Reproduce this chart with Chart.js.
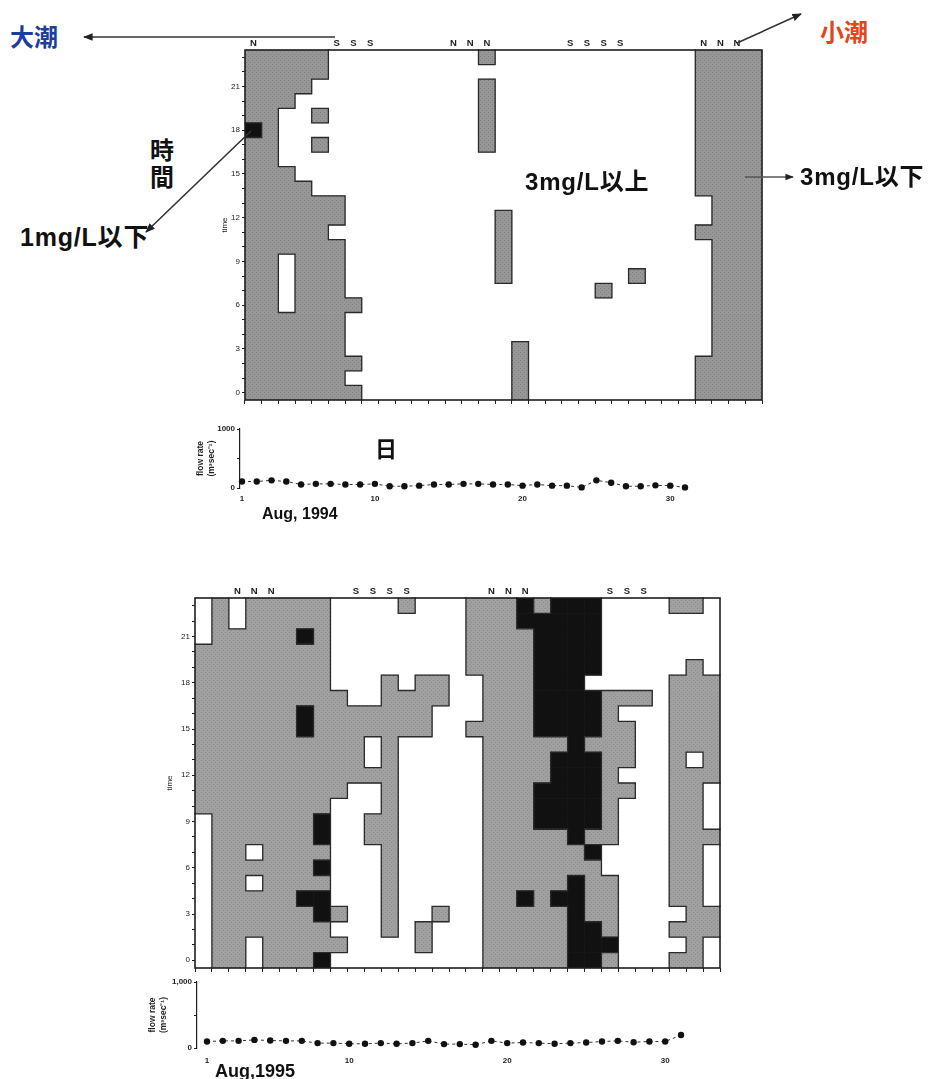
<!DOCTYPE html>
<html lang="ja">
<head>
<meta charset="utf-8">
<title>溶存酸素の日変化 1994・1995年8月</title>
<script src="https://cdn.jsdelivr.net/npm/chart.js@4.4.1/dist/chart.umd.min.js"></script>
<style>
  html, body { margin: 0; padding: 0; background: #fff; }
  body { width: 930px; height: 1079px; position: relative; overflow: hidden;
         font-family: "Liberation Sans", "Noto Sans CJK JP", sans-serif; }
  canvas { position: absolute; }
  .note { position: absolute; font-weight: bold; line-height: 1; white-space: nowrap; color: #111;
          font-family: "Liberation Sans", "Noto Sans CJK JP", sans-serif; }
  .mg { font-size: 24px; letter-spacing: 0.8px; }
  .jp { font-family: "Noto Sans CJK JP", sans-serif; }
  svg { position: absolute; left: 0; top: 0; pointer-events: none; }
</style>
</head>
<body>

<canvas id="do94" width="560" height="392" style="left:220px;top:28px"></canvas>
<canvas id="flow94" width="504" height="95" style="left:196px;top:415px"></canvas>
<canvas id="do95" width="577" height="412" style="left:165px;top:576px"></canvas>
<canvas id="flow95" width="552" height="104" style="left:148px;top:968px"></canvas>

<div class="note jp" style="left:10px;top:24px;font-size:24px;color:#1d3f9c">大潮</div>
<div class="note jp" style="left:820px;top:19px;font-size:24px;color:#e2461c">小潮</div>
<div class="note jp" style="left:150px;top:137px;font-size:24px">時</div>
<div class="note jp" style="left:150px;top:164px;font-size:24px">間</div>
<div class="note mg" style="left:20px;top:225px;font-size:25px">1mg/L以下</div>
<div class="note mg" style="left:525px;top:170px">3mg/L以上</div>
<div class="note mg" style="left:800px;top:165px">3mg/L以下</div>
<div class="note jp" style="left:375px;top:436px;font-size:22px">日</div>
<div class="note" style="left:262px;top:506px;font-size:16px">Aug, 1994</div>
<div class="note" style="left:215px;top:1062px;font-size:18px">Aug,1995</div>

<svg width="930" height="1079">
  <defs>
    <marker id="ah" viewBox="0 0 10 10" refX="9" refY="5" markerWidth="6" markerHeight="6" orient="auto">
      <path d="M0,1 L10,5 L0,9 z" fill="#222"/>
    </marker>
  </defs>
  <line x1="335" y1="37" x2="84" y2="37" stroke="#333" stroke-width="1.6" marker-end="url(#ah)"/>
  <line x1="737" y1="43" x2="801" y2="14" stroke="#333" stroke-width="1.6" marker-end="url(#ah)"/>
  <line x1="251" y1="131" x2="146" y2="232" stroke="#333" stroke-width="1.6" marker-end="url(#ah)"/>
  <line x1="745" y1="177" x2="793" y2="177" stroke="#555" stroke-width="1.4" marker-end="url(#ah)"/>
</svg>

<script>
/* 溶存酸素の時間×日ダイアグラム（1994年・1995年8月）と流量
 * セル記号: '.' = 3mg/L以上(白), 'G' = 3mg/L以下(灰), 'B' = 1mg/L以下(黒)
 * 行は 23時 → 0時 の順、5日ごとに空白で区切る
 */

var dayLabels = ['1', '2', '3', '4', '5', '6', '7', '8', '9', '10', '11', '12', '13', '14', '15', '16',
  '17', '18', '19', '20', '21', '22', '23', '24', '25', '26', '27', '28', '29', '30', '31'];
var dayNums = [1, 2, 3, 4, 5, 6, 7, 8, 9, 10, 11, 12, 13, 14, 15, 16,
  17, 18, 19, 20, 21, 22, 23, 24, 25, 26, 27, 28, 29, 30, 31];
var hours = [0, 1, 2, 3, 4, 5, 6, 7, 8, 9, 10, 11, 12, 13, 14, 15, 16, 17, 18, 19, 20, 21, 22, 23];

// 大潮(S)・小潮(N) の上辺ラベル
var tide1994 = ['N', '', '', '', '', 'S', 'S', 'S', '', '', '', '', 'N', 'N', 'N', '',
  '', '', '', 'S', 'S', 'S', 'S', '', '', '', '', 'N', 'N', 'N', ''];
var tide1995 = ['', '', 'N', 'N', 'N', '', '', '', '', 'S', 'S', 'S', 'S', '', '', '',
  '', 'N', 'N', 'N', '', '', '', '', 'S', 'S', 'S', '', '', '', ''];

var do1994 = [
  'GGGGG ..... ....G ..... ..... ..GGG G', // 23
  'GGGGG ..... ..... ..... ..... ..GGG G', // 22
  'GGGG. ..... ....G ..... ..... ..GGG G', // 21
  'GGG.. ..... ....G ..... ..... ..GGG G', // 20
  'GG..G ..... ....G ..... ..... ..GGG G', // 19
  'BG... ..... ....G ..... ..... ..GGG G', // 18
  'GG..G ..... ....G ..... ..... ..GGG G', // 17
  'GG... ..... ..... ..... ..... ..GGG G', // 16
  'GGG.. ..... ..... ..... ..... ..GGG G', // 15
  'GGGG. ..... ..... ..... ..... ..GGG G', // 14
  'GGGGG G.... ..... ..... ..... ...GG G', // 13
  'GGGGG G.... ..... G.... ..... ...GG G', // 12
  'GGGGG ..... ..... G.... ..... ..GGG G', // 11
  'GGGGG G.... ..... G.... ..... ...GG G', // 10
  'GG.GG G.... ..... G.... ..... ...GG G', // 9
  'GG.GG G.... ..... G.... ...G. ...GG G', // 8
  'GG.GG G.... ..... ..... .G... ...GG G', // 7
  'GG.GG GG... ..... ..... ..... ...GG G', // 6
  'GGGGG G.... ..... ..... ..... ...GG G', // 5
  'GGGGG G.... ..... ..... ..... ...GG G', // 4
  'GGGGG G.... ..... .G... ..... ...GG G', // 3
  'GGGGG GG... ..... .G... ..... ..GGG G', // 2
  'GGGGG G.... ..... .G... ..... ..GGG G', // 1
  'GGGGG GG... ..... .G... ..... ..GGG G'  // 0
];

var do1995 = [
  '.G.GG GGG.. ..G.. .GGGB GBBB. ...GG .', // 23
  '.G.GG GGG.. ..... .GGGB BBBB. ..... .', // 22
  '.GGGG GBG.. ..... .GGGG BBBB. ..... .', // 21
  'GGGGG GGG.. ..... .GGGG BBBB. ..... .', // 20
  'GGGGG GGG.. ..... .GGGG BBBB. ....G .', // 19
  'GGGGG GGG.. .G.GG ..GGG BBB.. ...GG G', // 18
  'GGGGG GGGG. .GGGG ..GGG BBBBG GG.GG G', // 17
  'GGGGG GBGGG GGGG. ..GGG BBBBG ...GG G', // 16
  'GGGGG GBGGG GGGG. .GGGG BBBBG G..GG G', // 15
  'GGGGG GGGGG .G... ..GGG GGBGG G..GG G', // 14
  'GGGGG GGGGG .G... ..GGG GBBBG G..G. G', // 13
  'GGGGG GGGGG GG... ..GGG GBBBG ...GG G', // 12
  'GGGGG GGGG. .G... ..GGG BBBBG G..GG .', // 11
  'GGGGG GGG.. .G... ..GGG BBBBG ...GG .', // 10
  '.GGGG GGB.. GG... ..GGG BBBBG ...GG .', // 9
  '.GGGG GGB.. GG... ..GGG GGBGG ...GG G', // 8
  '.GG.G GGG.. .G... ..GGG GGGB. ...GG .', // 7
  '.GGGG GGB.. .G... ..GGG GGGG. ...GG .', // 6
  '.GG.G GGG.. .G... ..GGG GGBGG ...GG .', // 5
  '.GGGG GBB.. .G... ..GGB GBBGG ...GG .', // 4
  '.GGGG GGBG. .G..G ..GGG GGBGG ....G G', // 3
  '.GGGG GGG.. .G.G. ..GGG GGBBG ...GG G', // 2
  '.GG.G GGGG. ...G. ..GGG GGBBB ....G .', // 1
  '.GG.G GGB.. ..... ..GGG GGBBG ...GG .'  // 0
];

// 流量 (m3/sec)
var flow1994 = [110, 110, 130, 110, 60, 70, 70, 60, 60, 70, 30, 30, 40, 60, 60, 70,
  70, 60, 60, 40, 60, 40, 40, 10, 130, 90, 30, 30, 45, 40, 10];
var flow1995 = [98, 108, 108, 123, 113, 108, 108, 74, 74, 64, 64, 74, 64, 74, 108, 59,
  59, 49, 108, 74, 83, 74, 64, 74, 83, 98, 108, 88, 98, 98, 196];
var flowTicks = [1, 10, 20, 30];

var INK = '#1e1e1e';

function stipple(base, dot) {
  var c = document.createElement('canvas');
  c.width = 4;
  c.height = 4;
  var g = c.getContext('2d');
  g.fillStyle = base;
  g.fillRect(0, 0, 4, 4);
  g.fillStyle = dot;
  g.fillRect(0, 0, 1, 1);
  g.fillRect(2, 2, 1, 1);
  return g.createPattern(c, 'repeat');
}

// rows[0] は 23時 → cells[h] に並べ替え
function parseRows(rows) {
  return hours.map(function (h) {
    return rows[23 - h].replace(/ /g, '');
  });
}

function cellDatasets(cells, gray) {
  return hours.map(function (h) {
    var line = cells[h];
    return {
      data: dayLabels.map(function (_, i) { return line[i] === '.' ? null : [h, h + 1]; }),
      backgroundColor: dayLabels.map(function (_, i) { return line[i] === 'B' ? '#111' : gray; }),
      borderWidth: 0,
      barPercentage: 1,
      categoryPercentage: 1,
      grouped: false
    };
  });
}

// 色の境界線と枠
function edgePlugin(cells) {
  return {
    id: 'cellEdges',
    afterDatasetsDraw: function (chart) {
      var x = chart.scales.x;
      var y = chart.scales.y;
      var ctx = chart.ctx;
      var half = (x.getPixelForValue(1) - x.getPixelForValue(0)) / 2;
      ctx.save();
      ctx.strokeStyle = '#2a2a2a';
      ctx.lineWidth = 1.3;
      ctx.lineCap = 'square';
      ctx.beginPath();
      for (var h = 0; h < 24; h++) {
        for (var d = 0; d < 31; d++) {
          var v = cells[h][d];
          var xc = x.getPixelForValue(d);
          var yb = y.getPixelForValue(h);
          var yt = y.getPixelForValue(h + 1);
          if (d < 30 && cells[h][d + 1] !== v) {
            ctx.moveTo(xc + half, yt);
            ctx.lineTo(xc + half, yb);
          }
          if (h < 23 && cells[h + 1][d] !== v) {
            ctx.moveTo(xc - half, yt);
            ctx.lineTo(xc + half, yt);
          }
        }
      }
      ctx.stroke();
      var a = chart.chartArea;
      ctx.lineWidth = 1.6;
      ctx.strokeStyle = INK;
      ctx.strokeRect(a.left, a.top, a.right - a.left, a.bottom - a.top);
      ctx.restore();
    }
  };
}

function doChart(id, rows, tideLabels, gray, yWidth, padRight) {
  var cells = parseRows(rows);
  new Chart(document.getElementById(id), {
    type: 'bar',
    data: { labels: dayLabels, datasets: cellDatasets(cells, gray) },
    plugins: [edgePlugin(cells)],
    options: {
      responsive: false,
      animation: false,
      events: [],
      layout: { padding: { left: 0, right: padRight, top: 0, bottom: 0 } },
      plugins: { legend: { display: false }, tooltip: { enabled: false } },
      scales: {
        x: {
          type: 'category',
          offset: true,
          ticks: { display: false },
          grid: { offset: true, drawOnChartArea: false, tickLength: 4, color: INK },
          border: { display: false },
          afterFit: function (s) { s.height = 20; }
        },
        x2: {
          type: 'category',
          position: 'top',
          labels: tideLabels,
          offset: true,
          ticks: { autoSkip: false, maxRotation: 0, padding: 1, color: INK,
                   font: { size: 9.5, weight: 'bold', family: 'Liberation Sans' } },
          grid: { display: false, drawTicks: false },
          border: { display: false },
          afterFit: function (s) { s.height = 22; }
        },
        y: {
          min: 0,
          max: 24,
          afterBuildTicks: function (s) {
            s.ticks = hours.map(function (h) { return { value: h + 0.5 }; });
          },
          ticks: {
            autoSkip: false,
            padding: 2,
            color: INK,
            font: { size: 8, family: 'Liberation Sans' },
            callback: function (v) {
              var h = Math.round(v - 0.5);
              return h % 3 === 0 ? String(h) : '';
            }
          },
          grid: { drawOnChartArea: false, tickLength: 3, color: INK },
          border: { display: false },
          title: { display: true, text: 'time', color: INK, padding: 0,
                   font: { size: 8, family: 'Liberation Sans' } },
          afterFit: function (s) { s.width = yWidth; }
        }
      }
    }
  });
}

function flowChart(id, values, xMin, xMax, topLabel, yWidth, xHeight, labelPad) {
  new Chart(document.getElementById(id), {
    type: 'line',
    data: {
      datasets: [{
        data: dayNums.map(function (d, i) { return { x: d, y: values[i] }; }),
        borderColor: '#333',
        borderWidth: 1,
        borderDash: [3, 3],
        pointRadius: 3.2,
        pointBackgroundColor: '#111',
        pointBorderWidth: 0,
        clip: false
      }]
    },
    options: {
      responsive: false,
      animation: false,
      events: [],
      layout: { padding: { left: 0, right: 10, top: 14, bottom: 0 } },
      plugins: { legend: { display: false }, tooltip: { enabled: false } },
      scales: {
        x: {
          type: 'linear',
          min: xMin,
          max: xMax,
          afterBuildTicks: function (s) {
            s.ticks = flowTicks.map(function (v) { return { value: v }; });
          },
          ticks: { padding: labelPad, color: INK, font: { size: 8, weight: 'bold', family: 'Liberation Sans' },
                   callback: function (v) { return String(v); } },
          grid: { display: false, drawTicks: false },
          border: { display: false },
          afterFit: function (s) { s.height = xHeight; }
        },
        y: {
          min: 0,
          max: 1000,
          afterBuildTicks: function (s) {
            s.ticks = [0, 500, 1000].map(function (v) { return { value: v }; });
          },
          ticks: {
            padding: 2,
            color: INK,
            font: { size: 8, weight: 'bold', family: 'Liberation Sans' },
            callback: function (v) { return v === 1000 ? topLabel : (v === 0 ? '0' : ''); }
          },
          grid: { drawOnChartArea: false, tickLength: 3, color: INK },
          border: { display: true, color: INK, width: 1.2 },
          title: { display: true, text: ['flow rate', '(m³sec⁻¹)'], color: INK, padding: 0,
                   font: { size: 8.5, weight: 'bold', family: 'Liberation Sans' } },
          afterFit: function (s) { s.width = yWidth; }
        }
      }
    }
  });
}

doChart('do94', do1994, tide1994, stipple('#979797', '#7f7f7f'), 25, 18);
doChart('do95', do1995, tide1995, stipple('#a0a0a0', '#8c8c8c'), 30, 22);
flowChart('flow94', flow1994, 0.865, 31.34, '1000', 44, 22, 6);
flowChart('flow95', flow1995, 0.367, 31.57, '1,000', 49, 24, 8);
</script>
</body>
</html>
